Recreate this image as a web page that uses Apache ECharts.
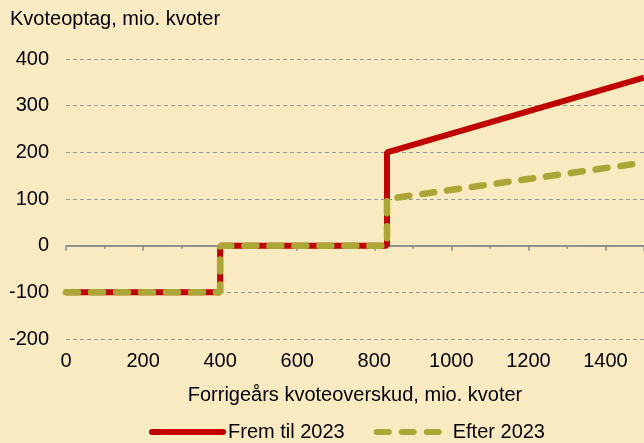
<!DOCTYPE html>
<html>
<head>
<meta charset="utf-8">
<script src="https://cdn.jsdelivr.net/npm/echarts@6/dist/echarts.min.js"></script>
<style>
  html, body { margin: 0; padding: 0; background: #FAEAC1; }
  #chart { width: 644px; height: 443px; }
</style>
</head>
<body>
<div id="chart"></div>
<script>
// data (mio. kvoter)
var seriesNames = ['Frem til 2023', 'Efter 2023'];
var fremTil2023 = [[0, -100], [400, -100], [400, 0], [833, 0], [833, 200], [1500, 360]];
var efter2023 = [[0, -100], [400, -100], [400, 0], [833, 0], [833, 100], [1500, 178]];
var yTicks = [-200, -100, 0, 100, 200, 300, 400];

var myChart = echarts.init(document.getElementById('chart'));
var font = 'Liberation Sans, Arial, sans-serif';

var option = {
    backgroundColor: '#FAEAC1',
    animation: false,
    title: {
        text: 'Kvoteoptag, mio. kvoter',
        left: 5,
        top: 4,
        textStyle: { fontFamily: font, fontSize: 20, fontWeight: 'normal', color: '#000' }
    },
    legend: {
        top: 422,
        left: 149,
        padding: 0,
        itemWidth: 71,
        itemHeight: 14,
        itemGap: 29,
        itemStyle: { opacity: 0 },
        lineStyle: { width: 6, cap: 'round' },
        textStyle: { fontFamily: font, fontSize: 20, color: '#000' },
        data: seriesNames
    },
    grid: { left: 66, right: -4, top: 59, bottom: 104 },
    xAxis: {
        type: 'value',
        min: 0,
        max: 1500,
        interval: 200,
        name: 'Forrigeårs kvoteoverskud, mio. kvoter',
        nameLocation: 'middle',
        nameGap: 46,
        nameTextStyle: { fontFamily: font, fontSize: 20, color: '#000' },
        axisLine: { show: true, lineStyle: { color: '#8c8c8c', width: 1.5 } },
        axisTick: { show: true, length: 5, lineStyle: { color: '#8c8c8c', width: 1.5 } },
        minorTick: { show: true, splitNumber: 2, length: 3, lineStyle: { color: '#8c8c8c', width: 1.5 } },
        axisLabel: {
            fontFamily: font, fontSize: 20, color: '#000', margin: 12, showMaxLabel: false,
            formatter: function (v) { return String(v); }
        },
        splitLine: { show: false }
    },
    yAxis: {
        type: 'value',
        min: yTicks[0],
        max: yTicks[yTicks.length - 1],
        interval: 100,
        axisLine: { show: false },
        axisTick: { show: false },
        axisLabel: { fontFamily: font, fontSize: 20, color: '#000', margin: 17 },
        splitLine: { show: true, lineStyle: { color: '#999', type: [4, 3], width: 1 } }
    },
    series: [
        {
            name: seriesNames[0],
            type: 'line',
            data: fremTil2023,
            symbol: 'none',
            color: '#C00000',
            lineStyle: { color: '#C00000', width: 6 },
            markLine: {
                silent: true,
                symbol: 'none',
                label: { show: false },
                lineStyle: { color: '#8c8c8c', type: 'solid', width: 1.5 },
                data: [{ yAxis: 0 }],
                z: 1
            },
            z: 3
        },
        {
            name: seriesNames[1],
            type: 'line',
            data: efter2023,
            symbol: 'none',
            color: '#ABA635',
            lineStyle: { color: '#ABA635', width: 6.5, type: [12, 13], cap: 'round' },
            z: 4
        }
    ]
};
myChart.setOption(option);
</script>
</body>
</html>
